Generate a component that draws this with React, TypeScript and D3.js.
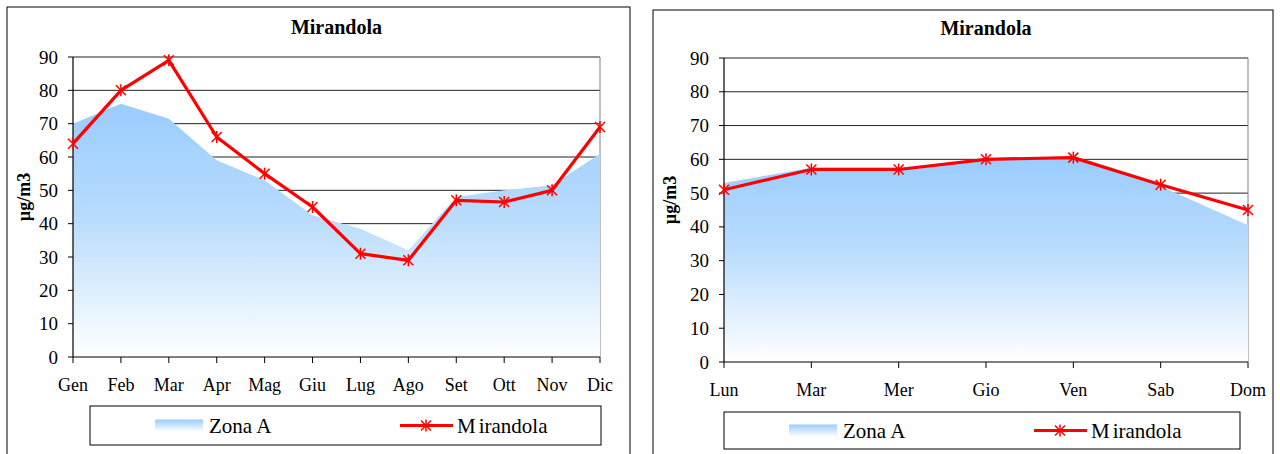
import React from 'react';
import * as d3 from 'd3';

// dati mensili
const mesi = ['Gen', 'Feb', 'Mar', 'Apr', 'Mag', 'Giu', 'Lug', 'Ago', 'Set', 'Ott', 'Nov', 'Dic'];
const zonaAMesi = [70, 76, 71.5, 59, 53, 42.5, 38.5, 32, 48, 50, 51.5, 61];
const mirandolaMesi = [64, 80, 89, 66, 55, 45, 31, 29, 47, 46.5, 50, 69];

// dati settimanali
const giorni = ['Lun', 'Mar', 'Mer', 'Gio', 'Ven', 'Sab', 'Dom'];
const zonaAGiorni = [53, 57.5, 57.5, 60, 61, 52, 40.5];
const mirandolaGiorni = [51, 57, 57, 60, 60.5, 52.5, 45];

const yTicks = [0, 10, 20, 30, 40, 50, 60, 70, 80, 90];

const FONT = '"Liberation Serif", "Times New Roman", serif';

interface PanelProps {
  id: string;
  labels: string[];
  zona: number[];
  staz: number[];
  frame: { x: number; y: number; w: number; h: number };
  plot: { l: number; r: number; t: number; b: number };
  titleY: number;
  yTitleX: number;
  legend: { x: number; y: number; w: number; h: number };
}

const Asterisk: React.FC<{ x: number; y: number }> = ({ x, y }) => {
  const s = 5;
  return (
    <g stroke="#ff0000" strokeWidth={1.5}>
      <line x1={x - s} y1={y - s} x2={x + s} y2={y + s} />
      <line x1={x - s} y1={y + s} x2={x + s} y2={y - s} />
      <line x1={x} y1={y - s - 1} x2={x} y2={y + s + 1} />
    </g>
  );
};

const Panel: React.FC<PanelProps> = ({ id, labels, zona, staz, frame, plot, titleY, yTitleX, legend }) => {
  const x = d3.scalePoint<string>().domain(labels).range([plot.l, plot.r]);
  const y = d3.scaleLinear().domain([0, 90]).range([plot.b, plot.t]);

  const area = d3.area<number>()
    .x((_, i) => x(labels[i])!)
    .y0(y(0))
    .y1(d => y(d));
  const line = d3.line<number>()
    .x((_, i) => x(labels[i])!)
    .y(d => y(d));

  const cx = (plot.l + plot.r) / 2;
  const lx = legend.x;
  const ly = legend.y + legend.h / 2;

  return (
    <g>
      <defs>
        <linearGradient id={`grad-${id}`} x1="0" y1="0" x2="0" y2="1">
          <stop offset="0" stopColor="#99ccff" />
          <stop offset="0.45" stopColor="#b9dcfd" />
          <stop offset="1" stopColor="#ffffff" />
        </linearGradient>
        <linearGradient id={`legrad-${id}`} x1="0" y1="0" x2="0" y2="1">
          <stop offset="0" stopColor="#99ccff" />
          <stop offset="1" stopColor="#ffffff" />
        </linearGradient>
      </defs>
      <rect x={frame.x} y={frame.y} width={frame.w} height={frame.h} fill="#fff" stroke="#000" strokeWidth={1} />
      <text x={cx} y={titleY} textAnchor="middle" dominantBaseline="central"
        fontFamily={FONT} fontWeight="bold" fontSize={20}>Mirandola</text>

      {/* griglia */}
      {yTicks.filter(t => t > 0).map(t => (
        <line key={t} x1={plot.l} x2={plot.r} y1={y(t)} y2={y(t)} stroke="#222" strokeWidth={1} />
      ))}
      <line x1={plot.r} x2={plot.r} y1={plot.t} y2={plot.b} stroke="#808080" strokeWidth={1} />

      <path d={area(zona)!} fill={`url(#grad-${id})`} />

      {/* assi */}
      <line x1={plot.l} x2={plot.l} y1={plot.t} y2={plot.b} stroke="#000" strokeWidth={1.2} />
      <line x1={plot.l} x2={plot.r} y1={plot.b} y2={plot.b} stroke="#000" strokeWidth={1.2} />
      {yTicks.map(t => (
        <g key={t}>
          <line x1={plot.l - 5} x2={plot.l} y1={y(t)} y2={y(t)} stroke="#000" />
          <text x={plot.l - 15} y={y(t)} textAnchor="end" dominantBaseline="central"
            fontFamily={FONT} fontSize={19}>{t}</text>
        </g>
      ))}
      {labels.map(l => (
        <g key={l}>
          <line x1={x(l)} x2={x(l)} y1={plot.b} y2={plot.b + 6} stroke="#000" />
          <text x={x(l)} y={plot.b + 28} textAnchor="middle" dominantBaseline="central"
            fontFamily={FONT} fontSize={18}>{l}</text>
        </g>
      ))}
      <text transform={`translate(${yTitleX},${(plot.t + plot.b) / 2 - 10}) rotate(-90)`} textAnchor="middle"
        dominantBaseline="central" fontFamily={FONT} fontWeight="bold" fontSize={18}>µg/m3</text>

      <path d={line(staz)!} fill="none" stroke="#ff0000" strokeWidth={3.2} strokeLinejoin="round" />
      {staz.map((v, i) => <Asterisk key={i} x={x(labels[i])!} y={y(v)} />)}

      {/* legenda */}
      <rect x={legend.x} y={legend.y} width={legend.w} height={legend.h} fill="#fff" stroke="#000" />
      <rect x={lx + 65} y={ly - 6} width={48} height={12} fill={`url(#legrad-${id})`} />
      <text x={lx + 119} y={ly} dominantBaseline="central" fontFamily={FONT} fontSize={21}>Zona A</text>
      <line x1={lx + 310} x2={lx + 363} y1={ly} y2={ly} stroke="#ff0000" strokeWidth={3} />
      <Asterisk x={lx + 336} y={ly} />
      <text x={lx + 367} y={ly} dominantBaseline="central" fontFamily={FONT} fontSize={21}>
        <tspan>M</tspan><tspan dx={3}>irandola</tspan>
      </text>
    </g>
  );
};

const App: React.FC = () => (
  <svg width={1280} height={454} style={{ position: 'absolute', left: 0, top: 0, background: '#fff' }}>
    <Panel id="mesi" labels={mesi} zona={zonaAMesi} staz={mirandolaMesi}
      frame={{ x: 7, y: 7, w: 623, h: 460 }}
      plot={{ l: 73, r: 600, t: 57, b: 357 }}
      titleY={27} yTitleX={24}
      legend={{ x: 90, y: 406, w: 511, h: 39 }} />
    <Panel id="giorni" labels={giorni} zona={zonaAGiorni} staz={mirandolaGiorni}
      frame={{ x: 653, y: 10, w: 620, h: 460 }}
      plot={{ l: 724, r: 1248, t: 58, b: 362 }}
      titleY={28} yTitleX={670}
      legend={{ x: 724, y: 412, w: 516, h: 37 }} />
  </svg>
);

export default App;
